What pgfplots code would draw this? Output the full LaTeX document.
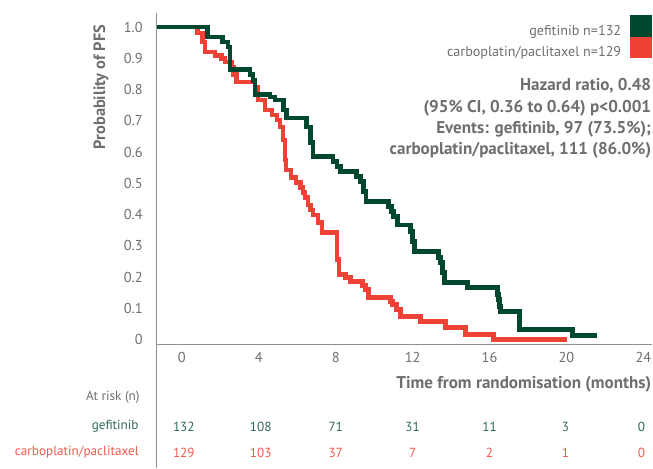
\documentclass[border=0pt]{standalone}
\usepackage{pgfplots}
\pgfplotsset{compat=1.18}
\usepackage{fontspec}
\setmainfont{PT Sans}
\definecolor{gefgreen}{HTML}{00472F}
\definecolor{carbored}{HTML}{EE4237}
\definecolor{txtgrey}{HTML}{6D6E71}
\definecolor{axgrey}{HTML}{8E8E8E}
\definecolor{gefrisk}{HTML}{2F6B50}
\definecolor{carbrisk}{HTML}{F05A4C}

\begin{document}
\begin{tikzpicture}
% pixel frame of the reference: (0,0) top left, 0.75pt per pixel
\begin{scope}[x=0.75pt, y=-0.75pt, shift={(-117.75pt,258.75pt)}]
\path[use as bounding box] (0,0) rectangle (653,468);
\end{scope}

\begin{axis}[
    at={(0,0)}, anchor=south west,
    scale only axis,
    width=372pt, height=249pt,
    xmin=-1.3, xmax=24.47,
    ymin=-0.016, ymax=1.045,
    axis x line=bottom, axis y line=left,
    axis line style={draw=axgrey, line width=0.9pt, -},
    xtick={0,4,8,12,16,20,24},
    xticklabels={0,4,8,12,16,20,24},
    ytick={0,0.1,0.2,0.3,0.4,0.5,0.6,0.7,0.8,0.9,1.0},
    yticklabels={0,0.1,0.2,0.3,0.4,0.5,0.6,0.7,0.8,0.9,1.0},
    major tick length=0pt,
    tick style={draw=none},
    ticklabel style={font=\fontsize{10.8}{12}\selectfont, text=txtgrey, inner sep=0pt},
    xticklabel style={anchor=center, yshift=-9.75pt},
    yticklabel style={anchor=east, xshift=-10.5pt},
    clip=false,
]

% carboplatin/paclitaxel
\addplot[const plot, carbored, line width=3.6pt] coordinates {
    (-1.3,1.0) (0.83,0.981) (1.09,0.952) (1.2,0.92) (1.72,0.91) (2.08,0.9)
    (2.24,0.888) (2.6,0.872) (2.7,0.847) (2.86,0.824) (3.8,0.808) (3.96,0.767)
    (4.32,0.735) (4.69,0.719) (4.95,0.703) (5.1,0.68) (5.26,0.639) (5.36,0.575)
    (5.42,0.543) (5.68,0.518) (5.94,0.502) (6.15,0.486) (6.3,0.47) (6.4,0.454)
    (6.56,0.431) (6.67,0.415) (6.82,0.399) (7.08,0.374) (7.29,0.342) (8.07,0.256)
    (8.17,0.208) (8.49,0.198) (8.75,0.185) (9.38,0.173) (9.53,0.16) (9.69,0.134)
    (10.83,0.121) (10.94,0.112) (11.15,0.096) (11.35,0.073) (12.4,0.058)
    (13.7,0.038) (14.74,0.016) (16.2,0) (20.05,0)
};

% gefitinib
\addplot[const plot, gefgreen, line width=3.6pt] coordinates {
    (-1.3,1.0) (1.35,0.968) (2.13,0.952) (2.4,0.936) (2.5,0.863) (3.54,0.847)
    (3.7,0.83) (3.8,0.783) (4.58,0.776) (4.84,0.767) (5.3,0.735) (5.45,0.709)
    (6.5,0.68) (6.67,0.63) (6.82,0.585) (7.86,0.569) (8.07,0.553) (8.23,0.537)
    (9.1,0.521) (9.27,0.505) (9.43,0.473) (9.58,0.441) (10.73,0.425) (10.89,0.409)
    (10.99,0.393) (11.2,0.367) (11.88,0.345) (11.98,0.313) (12.08,0.281)
    (13.33,0.262) (13.44,0.246) (13.54,0.214) (13.65,0.182) (14.84,0.166)
    (16.4,0.144) (16.46,0.128) (16.5,0.105) (16.56,0.089) (17.55,0.032)
    (20.3,0.013) (21.6,0.013)
};
\end{axis}

\begin{scope}[x=0.75pt, y=-0.75pt, shift={(-117.75pt,258.75pt)}]
% y axis line runs down through the risk table
\draw[axgrey, line width=0.9pt] (157,345) -- (157,468);

\node[rotate=90, text=txtgrey, font=\fontsize{12.3}{14}\selectfont\bfseries] at (101,87) {Probability of PFS};

% legend
\node[anchor=east, inner sep=0pt, text=txtgrey, font=\fontsize{10.6}{12}\selectfont] at (622,32) {gefitinib n=132};
\node[anchor=east, inner sep=0pt, text=txtgrey, font=\fontsize{10.6}{12}\selectfont] at (622,53) {carboplatin/paclitaxel n=129};
\fill[gefgreen] (631,15) rectangle (653,37);
\fill[carbored] (631,37) rectangle (653,58);

% hazard ratio
\begin{scope}[every node/.style={anchor=east, inner sep=0pt, text=txtgrey, font=\fontsize{12.8}{14}\selectfont\bfseries}]
\node at (652,86) {Hazard ratio, 0.48};
\node at (652,108) {(95\% CI, 0.36 to 0.64) p<0.001};
\node at (652,129) {Events: gefitinib, 97 (73.5\%);};
\node at (652,150) {carboplatin/paclitaxel, 111 (86.0\%)};
\end{scope}

\node[anchor=east, inner sep=0pt, text=txtgrey, font=\fontsize{12.8}{14}\selectfont\bfseries] at (652,385) {Time from randomisation (months)};

% numbers at risk
\begin{scope}[every node/.style={inner sep=0pt, font=\fontsize{9.9}{11}\selectfont}]
\node[anchor=east, text=txtgrey] at (140,398) {At risk (n)};
\node[anchor=east, text=gefrisk] at (139,427) {gefitinib};
\node[anchor=east, text=carbrisk] at (139,453) {carboplatin/paclitaxel};
\foreach \x/\g/\c in {184/132/129, 261/108/103, 336/71/37, 413/31/7, 490/11/2, 566/3/1, 642/0/0} {
    \node[text=gefrisk] at (\x,427) {\g};
    \node[text=carbrisk] at (\x,453) {\c};
}
\end{scope}
\end{scope}
\end{tikzpicture}
\end{document}
